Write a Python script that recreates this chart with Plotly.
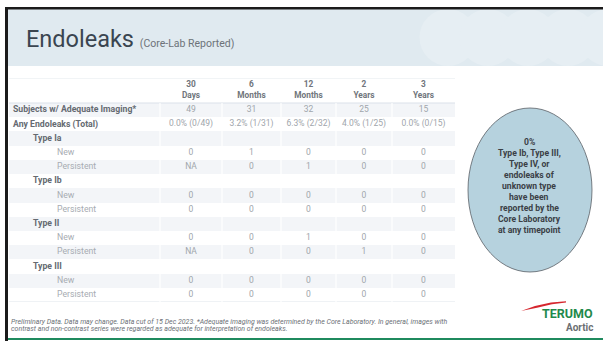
import plotly.graph_objects as go

# ---------------- data ----------------
timepoints = ["30<br>Days", "6<br>Months", "12<br>Months", "2<br>Years", "3<br>Years"]
row_labels = ["Subjects w/ Adequate Imaging*", "Any Endoleaks (Total)",
              "Type Ia", "New", "Persistent",
              "Type Ib", "New", "Persistent",
              "Type II", "New", "Persistent",
              "Type III", "New", "Persistent"]
row_levels = [0, 0, 1, 2, 2, 1, 2, 2, 1, 2, 2, 1, 2, 2]

subjects = [49, 31, 32, 25, 15]
any_endoleak_n = [0, 1, 2, 1, 0]
type_ia_new = [0, 1, 0, 0, 0]
type_ia_persistent = ["NA", 0, 1, 0, 0]
type_ib_new = [0, 0, 0, 0, 0]
type_ib_persistent = [0, 0, 0, 0, 0]
type_ii_new = [0, 0, 1, 0, 0]
type_ii_persistent = ["NA", 0, 0, 1, 0]
type_iii_new = [0, 0, 0, 0, 0]
type_iii_persistent = [0, 0, 0, 0, 0]

oval_lines = ["0%", "Type Ib, Type III,", "Type IV, or", "endoleaks of", "unknown type",
              "have been", "reported by the", "Core Laboratory", "at any timepoint"]

footnote_lines = [
    "Preliminary Data. Data may change. Data cut of 15 Dec 2023. *Adequate imaging was determined by the "
    "Core Laboratory. In general, images with",
    "contrast and non-contrast series were regarded as adequate for interpretation of endoleaks.",
]

# ---------------- layout constants ----------------
W, H = 603, 341
col_widths = [151, 62, 59, 55, 56, 63]          # label column + 5 timepoints (px)
level_indent = {0: 4, 1: 24, 2: 48}             # label indent (px)
row_h = 14.2
header_h = 25.0
tbl_left, tbl_right, tbl_top, tbl_bottom = 9, 455, 78, 302


def px(x):
    return x / W


def py(y):
    return 1 - y / H


# ---------------- derived table content ----------------
def pct(n, d):
    v = int(1000 * n / d + 0.5) / 10
    return f"{v:.1f}% ({n}/{d})"


any_text = [pct(n, d) for n, d in zip(any_endoleak_n, subjects)]
blank = [""] * 5
rows = [subjects, any_text,
        blank, type_ia_new, type_ia_persistent,
        blank, type_ib_new, type_ib_persistent,
        blank, type_ii_new, type_ii_persistent,
        blank, type_iii_new, type_iii_persistent]
nrows = len(rows)

edges = [0]
for w in col_widths:
    edges.append(edges[-1] + w)
total_w = edges[-1]
centers = [(edges[i + 1] + edges[i + 2]) / 2 for i in range(5)]
hdr_units = header_h / row_h
header_y = -0.5 - hdr_units / 2

fig = go.Figure()

# striped row backgrounds
striped = [i for i in range(nrows) if i % 2 == 0]
fig.add_trace(go.Bar(orientation="h", y=striped, x=[total_w] * len(striped), base=0, width=1,
                     marker=dict(color="#f3f5f8", line_width=0), hoverinfo="skip"))

# value cells
vx, vy, vt = [], [], []
for r, vals in enumerate(rows):
    for c, v in enumerate(vals):
        vx.append(centers[c])
        vy.append(r)
        vt.append(str(v))
fig.add_trace(go.Scatter(x=vx, y=vy, text=vt, mode="text", textposition="middle center",
                         textfont=dict(family="Roboto", size=8.5, color="#a0a5ab"),
                         cliponaxis=False, hoverinfo="skip"))

# row labels
lx = [level_indent[lv] for lv in row_levels]
lt = [f"<b>{lab}</b>" if lv < 2 else lab for lab, lv in zip(row_labels, row_levels)]
lc = ["#656a71" if lv < 2 else "#a7acb2" for lv in row_levels]
fig.add_trace(go.Scatter(x=lx, y=list(range(nrows)), text=lt, mode="text", textposition="middle right",
                         textfont=dict(family="Roboto", size=8.7, color=lc),
                         cliponaxis=False, hoverinfo="skip"))

# header
fig.add_trace(go.Scatter(x=centers, y=[header_y] * 5,
                         text=["<b>" + t.replace("<br>", "</b><br><b>") + "</b>" for t in timepoints],
                         mode="text", textposition="middle center",
                         textfont=dict(family="Roboto", size=8.3, color="#70757b"),
                         cliponaxis=False, hoverinfo="skip"))

shapes = []
# slide frame / header band
shapes.append(dict(type="rect", xref="paper", yref="paper", x0=px(8), x1=1, y0=py(66), y1=py(9),
                   fillcolor="#e0eaf0", line_width=0, layer="below"))
for cx in [448, 488, 528, 568, 608]:
    shapes.append(dict(type="circle", xref="paper", yref="paper", x0=px(cx - 28.5), x1=px(cx + 28.5),
                       y0=py(66), y1=py(9), fillcolor="#e6eef3", line_width=0, layer="below"))
shapes.append(dict(type="rect", xref="paper", yref="paper", x0=px(5), x1=1, y0=py(9.5), y1=py(7),
                   fillcolor="#1b1b1b", line_width=0))
shapes.append(dict(type="rect", xref="paper", yref="paper", x0=px(5), x1=px(8), y0=0, y1=py(7),
                   fillcolor="#1b1b1b", line_width=0))
shapes.append(dict(type="rect", xref="paper", yref="paper", x0=px(8), x1=1, y0=py(340), y1=py(338),
                   fillcolor="#1f8a5e", line_width=0))
# table rules
for yy, col in [(-0.5 - hdr_units, "#e4e9ee"), (-0.5, "#dbe2e9"), (nrows - 0.5, "#e0e6eb")]:
    shapes.append(dict(type="line", xref="x", yref="y", x0=0, x1=total_w, y0=yy, y1=yy,
                       line=dict(color=col, width=1.2)))
# white column separators
for e in edges[1:-1]:
    shapes.append(dict(type="line", xref="x", yref="y", x0=e, x1=e, y0=-0.5, y1=nrows - 0.5,
                       line=dict(color="white", width=1.2), layer="above"))
# oval
shapes.append(dict(type="circle", xref="paper", yref="paper", x0=px(468), x1=px(592), y0=py(272), y1=py(108),
                   fillcolor="#b6d2de", line=dict(color="#5b6066", width=0.8)))


# logo swoosh
def path_px(pts):
    s = f"M {px(pts[0][0])} {py(pts[0][1])}"
    for a, b in pts[1:]:
        s += f" L {px(a)} {py(b)}"
    return s + " Z"


shapes.append(dict(type="path", xref="paper", yref="paper",
                   path=path_px([(521, 311), (535, 306), (551, 302.5), (566, 301.2), (566, 302.6),
                                 (552, 304.3), (537, 307.8)]),
                   fillcolor="#d6262e", line_width=0))

annotations = []
annotations.append(dict(xref="paper", yref="paper", x=px(24), y=py(39), xanchor="left", yanchor="middle",
                        text="Endoleaks <span style='font-size:10.5px;color:#6d7379'>(Core-Lab Reported)</span>",
                        showarrow=False, font=dict(family="Roboto", size=23.5, color="#3a4550")))
oval_top, oval_step = 142, 11.0
for i, line in enumerate(oval_lines):
    annotations.append(dict(xref="paper", yref="paper", x=px(529), y=py(oval_top + i * oval_step),
                            xanchor="center", yanchor="middle", text=f"<b>{line}</b>", showarrow=False,
                            font=dict(family="Roboto", size=8.6, color="#3b4046")))
for i, line in enumerate(footnote_lines):
    annotations.append(dict(xref="paper", yref="paper", x=px(9), y=py(322 + i * 7.2), xanchor="left",
                            yanchor="middle", text=f"<i>{line}</i>", showarrow=False,
                            font=dict(family="Roboto", size=7.0, color="#6b7076")))
annotations.append(dict(xref="paper", yref="paper", x=px(595), y=py(313.5), xanchor="right", yanchor="middle",
                        text="<b>TERUMO</b>", showarrow=False,
                        font=dict(family="Roboto", size=12.5, color="#1f8a4c")))
annotations.append(dict(xref="paper", yref="paper", x=px(595), y=py(327), xanchor="right", yanchor="middle",
                        text="<b>Aortic</b>", showarrow=False,
                        font=dict(family="Roboto", size=10, color="#6b6f73")))

fig.update_layout(width=W, height=H, margin=dict(l=0, r=0, t=0, b=0),
                  paper_bgcolor="white", plot_bgcolor="rgba(0,0,0,0)",
                  shapes=shapes, annotations=annotations, showlegend=False,
                  xaxis=dict(domain=[px(tbl_left), px(tbl_right)], range=[0, total_w], visible=False,
                             fixedrange=True),
                  yaxis=dict(domain=[py(tbl_bottom), py(tbl_top)], range=[nrows - 0.5, -0.5 - hdr_units],
                             visible=False, fixedrange=True),
                  bargap=0)
fig.write_html("out.html")
